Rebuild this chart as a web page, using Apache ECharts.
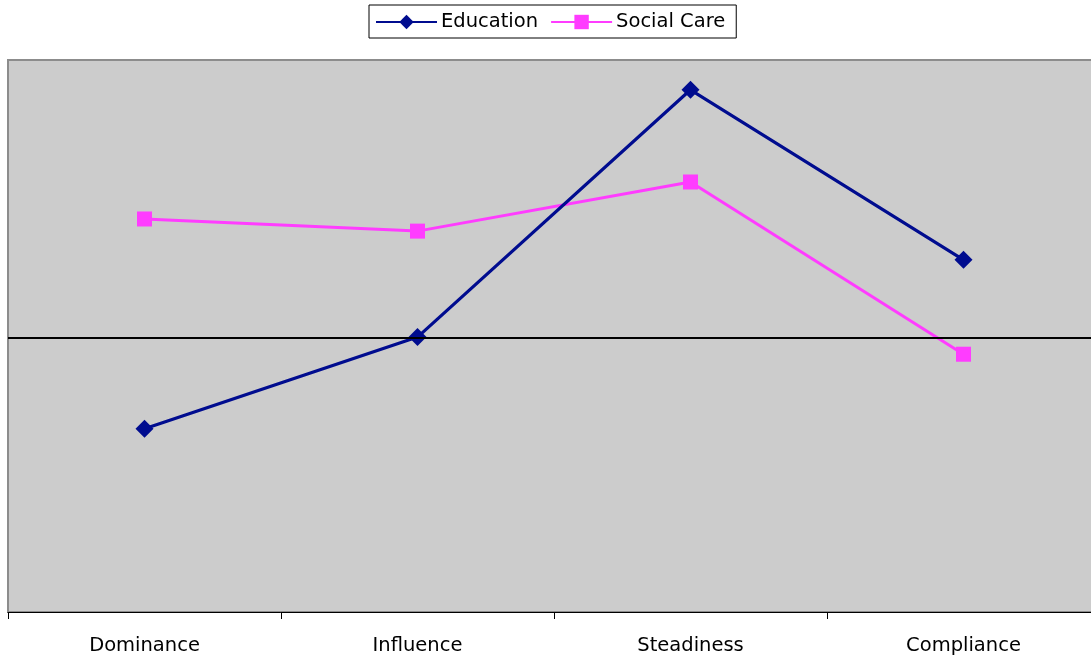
<!DOCTYPE html>
<html>
<head>
<meta charset="utf-8">
<script src="https://cdn.jsdelivr.net/npm/echarts@6/dist/echarts.min.js"></script>
<style>html,body{margin:0;padding:0;background:#fff;overflow:hidden}#c{width:1100px;height:657px}</style>
</head>
<body>
<div id="c"></div>
<script>
const categories = ['Dominance', 'Influence', 'Steadiness', 'Compliance'];
const education = [33.2, 49.8, 94.6, 63.8];
const socialCare = [71.2, 69.0, 77.9, 46.7];
const midline = 49.6;

const chart = echarts.init(document.getElementById('c'));
chart.setOption({
  animation: false,
  textStyle: { fontFamily: 'DejaVu Sans' },
  legend: {
    top: 5, left: 369,
    padding: [7, 11, 6, 6],
    itemGap: 12,
    itemWidth: 61, itemHeight: 18,
    borderColor: '#000', borderWidth: 1,
    textStyle: { fontSize: 19.5, color: '#000', fontFamily: 'DejaVu Sans', padding: [0, 0, 0, -1] },
    data: ['Education', 'Social Care']
  },
  grid: {
    left: 8, right: 0, top: 60, bottom: 45,
    show: true, backgroundColor: '#cccccc', borderColor: '#8c8c8c', borderWidth: 2
  },
  xAxis: {
    type: 'category', data: categories, boundaryGap: true,
    axisLine: { lineStyle: { color: '#000', width: 1 } },
    axisTick: { show: true, length: 7, lineStyle: { color: '#000' } },
    axisLabel: { fontSize: 19.5, color: '#000', margin: 24, fontFamily: 'DejaVu Sans' }
  },
  yAxis: {
    type: 'value', min: 0, max: 100,
    axisLine: { show: false }, axisTick: { show: false },
    axisLabel: { show: false }, splitLine: { show: false }
  },
  series: [
    {
      name: 'Education', type: 'line', data: education,
      symbol: 'diamond', symbolSize: 18,
      itemStyle: { color: '#000c8f' },
      lineStyle: { color: '#000c8f', width: 3.2 },
      markLine: {
        silent: true, symbol: 'none', label: { show: false },
        lineStyle: { color: '#000', width: 2, type: 'solid' },
        data: [{ yAxis: midline }]
      },
      z: 3
    },
    {
      name: 'Social Care', type: 'line', data: socialCare,
      symbol: 'rect', symbolSize: 15,
      itemStyle: { color: '#ff3cff' },
      lineStyle: { color: '#ff3cff', width: 3 },
      z: 2
    }
  ]
});
</script>
</body>
</html>
